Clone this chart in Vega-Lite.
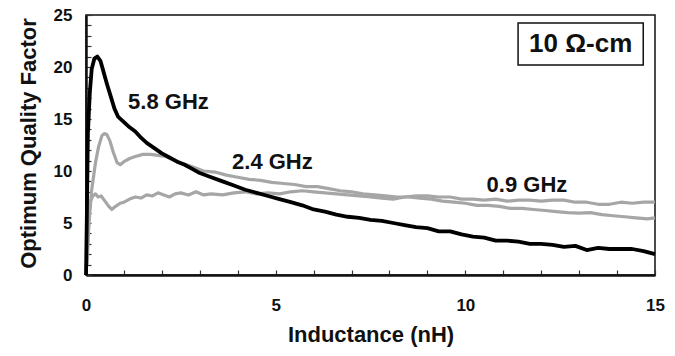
{
  "$schema": "https://vega.github.io/schema/vega-lite/v6.json",
  "width": 569,
  "height": 260,
  "autosize": {"type": "none"},
  "padding": {"left": 86, "top": 15, "right": 20, "bottom": 81},
  "background": "white",
  "config": {
    "view": {"stroke": "#111", "strokeWidth": 1.5},
    "font": "Liberation Sans",
    "axis": {"grid": false, "labelFont": "Liberation Sans", "titleFont": "Liberation Sans", "labelFontWeight": "bold", "titleFontWeight": "bold", "labelColor": "#111", "titleColor": "#111", "domainColor": "#111", "domainWidth": 2.5, "tickColor": "#333", "tickWidth": 1.2, "labelFlush": false}
  },
  "resolve": {"axis": {"x": "independent", "y": "independent"}},
  "datasets": {
    "curves": [
      {"f": "5.8 GHz", "L": 0.0, "Q": 0.0},
      {"f": "5.8 GHz", "L": 0.02, "Q": 5.0},
      {"f": "5.8 GHz", "L": 0.05, "Q": 13.6},
      {"f": "5.8 GHz", "L": 0.1, "Q": 17.5},
      {"f": "5.8 GHz", "L": 0.15, "Q": 19.8},
      {"f": "5.8 GHz", "L": 0.22, "Q": 20.8},
      {"f": "5.8 GHz", "L": 0.3, "Q": 21.0},
      {"f": "5.8 GHz", "L": 0.38, "Q": 20.6},
      {"f": "5.8 GHz", "L": 0.45, "Q": 19.7},
      {"f": "5.8 GHz", "L": 0.55, "Q": 18.4},
      {"f": "5.8 GHz", "L": 0.65, "Q": 17.2},
      {"f": "5.8 GHz", "L": 0.75, "Q": 16.0},
      {"f": "5.8 GHz", "L": 0.85, "Q": 15.2},
      {"f": "5.8 GHz", "L": 1.0, "Q": 14.7},
      {"f": "5.8 GHz", "L": 1.15, "Q": 14.2},
      {"f": "5.8 GHz", "L": 1.3, "Q": 13.8},
      {"f": "5.8 GHz", "L": 1.45, "Q": 13.2},
      {"f": "5.8 GHz", "L": 1.6, "Q": 12.7},
      {"f": "5.8 GHz", "L": 1.8, "Q": 12.2},
      {"f": "5.8 GHz", "L": 2.0, "Q": 11.7},
      {"f": "5.8 GHz", "L": 2.2, "Q": 11.3},
      {"f": "5.8 GHz", "L": 2.4, "Q": 10.9},
      {"f": "5.8 GHz", "L": 2.6, "Q": 10.6},
      {"f": "5.8 GHz", "L": 2.8, "Q": 10.2},
      {"f": "5.8 GHz", "L": 3.0, "Q": 9.8},
      {"f": "5.8 GHz", "L": 3.3, "Q": 9.4},
      {"f": "5.8 GHz", "L": 3.6, "Q": 9.0},
      {"f": "5.8 GHz", "L": 3.9, "Q": 8.6},
      {"f": "5.8 GHz", "L": 4.2, "Q": 8.2},
      {"f": "5.8 GHz", "L": 4.5, "Q": 7.9},
      {"f": "5.8 GHz", "L": 4.8, "Q": 7.6},
      {"f": "5.8 GHz", "L": 5.1, "Q": 7.3},
      {"f": "5.8 GHz", "L": 5.4, "Q": 7.0},
      {"f": "5.8 GHz", "L": 5.7, "Q": 6.7},
      {"f": "5.8 GHz", "L": 6.0, "Q": 6.3},
      {"f": "5.8 GHz", "L": 6.3, "Q": 6.1},
      {"f": "5.8 GHz", "L": 6.6, "Q": 5.8},
      {"f": "5.8 GHz", "L": 6.9, "Q": 5.6},
      {"f": "5.8 GHz", "L": 7.2, "Q": 5.5},
      {"f": "5.8 GHz", "L": 7.5, "Q": 5.3},
      {"f": "5.8 GHz", "L": 7.8, "Q": 5.2},
      {"f": "5.8 GHz", "L": 8.1, "Q": 5.0},
      {"f": "5.8 GHz", "L": 8.4, "Q": 4.8},
      {"f": "5.8 GHz", "L": 8.7, "Q": 4.6},
      {"f": "5.8 GHz", "L": 9.0, "Q": 4.5},
      {"f": "5.8 GHz", "L": 9.3, "Q": 4.2},
      {"f": "5.8 GHz", "L": 9.6, "Q": 4.2},
      {"f": "5.8 GHz", "L": 9.9, "Q": 3.9},
      {"f": "5.8 GHz", "L": 10.2, "Q": 3.7},
      {"f": "5.8 GHz", "L": 10.5, "Q": 3.6},
      {"f": "5.8 GHz", "L": 10.8, "Q": 3.3},
      {"f": "5.8 GHz", "L": 11.1, "Q": 3.3},
      {"f": "5.8 GHz", "L": 11.4, "Q": 3.2},
      {"f": "5.8 GHz", "L": 11.7, "Q": 3.0},
      {"f": "5.8 GHz", "L": 12.0, "Q": 3.0},
      {"f": "5.8 GHz", "L": 12.3, "Q": 2.9},
      {"f": "5.8 GHz", "L": 12.6, "Q": 2.7},
      {"f": "5.8 GHz", "L": 12.9, "Q": 2.8},
      {"f": "5.8 GHz", "L": 13.2, "Q": 2.4},
      {"f": "5.8 GHz", "L": 13.5, "Q": 2.6},
      {"f": "5.8 GHz", "L": 13.8, "Q": 2.5},
      {"f": "5.8 GHz", "L": 14.1, "Q": 2.5},
      {"f": "5.8 GHz", "L": 14.4, "Q": 2.5},
      {"f": "5.8 GHz", "L": 14.7, "Q": 2.3},
      {"f": "5.8 GHz", "L": 15.0, "Q": 2.0},
      {"f": "2.4 GHz", "L": 0.03, "Q": 2.0},
      {"f": "2.4 GHz", "L": 0.08, "Q": 5.0},
      {"f": "2.4 GHz", "L": 0.15, "Q": 8.2},
      {"f": "2.4 GHz", "L": 0.25, "Q": 10.8},
      {"f": "2.4 GHz", "L": 0.33, "Q": 12.3},
      {"f": "2.4 GHz", "L": 0.42, "Q": 13.4},
      {"f": "2.4 GHz", "L": 0.48, "Q": 13.6},
      {"f": "2.4 GHz", "L": 0.55, "Q": 13.5},
      {"f": "2.4 GHz", "L": 0.63, "Q": 12.9},
      {"f": "2.4 GHz", "L": 0.72, "Q": 11.8},
      {"f": "2.4 GHz", "L": 0.82, "Q": 10.8},
      {"f": "2.4 GHz", "L": 0.9, "Q": 10.6},
      {"f": "2.4 GHz", "L": 1.0, "Q": 10.9},
      {"f": "2.4 GHz", "L": 1.15, "Q": 11.2},
      {"f": "2.4 GHz", "L": 1.3, "Q": 11.4},
      {"f": "2.4 GHz", "L": 1.5, "Q": 11.6},
      {"f": "2.4 GHz", "L": 1.7, "Q": 11.6},
      {"f": "2.4 GHz", "L": 1.9, "Q": 11.5},
      {"f": "2.4 GHz", "L": 2.1, "Q": 11.4},
      {"f": "2.4 GHz", "L": 2.3, "Q": 11.1},
      {"f": "2.4 GHz", "L": 2.5, "Q": 10.8},
      {"f": "2.4 GHz", "L": 2.8, "Q": 10.4},
      {"f": "2.4 GHz", "L": 3.1, "Q": 10.0},
      {"f": "2.4 GHz", "L": 3.4, "Q": 9.9},
      {"f": "2.4 GHz", "L": 3.7, "Q": 9.6},
      {"f": "2.4 GHz", "L": 4.0, "Q": 9.4},
      {"f": "2.4 GHz", "L": 4.3, "Q": 9.2},
      {"f": "2.4 GHz", "L": 4.6, "Q": 9.1},
      {"f": "2.4 GHz", "L": 4.9, "Q": 8.9},
      {"f": "2.4 GHz", "L": 5.2, "Q": 8.8},
      {"f": "2.4 GHz", "L": 5.5, "Q": 8.7},
      {"f": "2.4 GHz", "L": 5.8, "Q": 8.5},
      {"f": "2.4 GHz", "L": 6.1, "Q": 8.5},
      {"f": "2.4 GHz", "L": 6.4, "Q": 8.3},
      {"f": "2.4 GHz", "L": 6.7, "Q": 8.1},
      {"f": "2.4 GHz", "L": 7.0, "Q": 8.0},
      {"f": "2.4 GHz", "L": 7.3, "Q": 7.8},
      {"f": "2.4 GHz", "L": 7.6, "Q": 7.7},
      {"f": "2.4 GHz", "L": 7.9, "Q": 7.6},
      {"f": "2.4 GHz", "L": 8.2, "Q": 7.5},
      {"f": "2.4 GHz", "L": 8.5, "Q": 7.5},
      {"f": "2.4 GHz", "L": 8.8, "Q": 7.4},
      {"f": "2.4 GHz", "L": 9.1, "Q": 7.3},
      {"f": "2.4 GHz", "L": 9.4, "Q": 7.1},
      {"f": "2.4 GHz", "L": 9.7, "Q": 7.0},
      {"f": "2.4 GHz", "L": 10.0, "Q": 6.9},
      {"f": "2.4 GHz", "L": 10.3, "Q": 6.7},
      {"f": "2.4 GHz", "L": 10.6, "Q": 6.7},
      {"f": "2.4 GHz", "L": 10.9, "Q": 6.6},
      {"f": "2.4 GHz", "L": 11.2, "Q": 6.4},
      {"f": "2.4 GHz", "L": 11.5, "Q": 6.4},
      {"f": "2.4 GHz", "L": 11.8, "Q": 6.3},
      {"f": "2.4 GHz", "L": 12.1, "Q": 6.2},
      {"f": "2.4 GHz", "L": 12.4, "Q": 6.1},
      {"f": "2.4 GHz", "L": 12.7, "Q": 6.0},
      {"f": "2.4 GHz", "L": 13.0, "Q": 5.95},
      {"f": "2.4 GHz", "L": 13.3, "Q": 6.0},
      {"f": "2.4 GHz", "L": 13.6, "Q": 5.8},
      {"f": "2.4 GHz", "L": 13.9, "Q": 5.7},
      {"f": "2.4 GHz", "L": 14.2, "Q": 5.6},
      {"f": "2.4 GHz", "L": 14.5, "Q": 5.5},
      {"f": "2.4 GHz", "L": 14.8, "Q": 5.4},
      {"f": "2.4 GHz", "L": 15.0, "Q": 5.5},
      {"f": "0.9 GHz", "L": 0.03, "Q": 1.0},
      {"f": "0.9 GHz", "L": 0.06, "Q": 4.0},
      {"f": "0.9 GHz", "L": 0.1, "Q": 7.0},
      {"f": "0.9 GHz", "L": 0.18, "Q": 7.6},
      {"f": "0.9 GHz", "L": 0.25, "Q": 7.8},
      {"f": "0.9 GHz", "L": 0.32, "Q": 7.5},
      {"f": "0.9 GHz", "L": 0.4, "Q": 7.6},
      {"f": "0.9 GHz", "L": 0.5, "Q": 7.1},
      {"f": "0.9 GHz", "L": 0.6, "Q": 6.6},
      {"f": "0.9 GHz", "L": 0.68, "Q": 6.3},
      {"f": "0.9 GHz", "L": 0.78, "Q": 6.6},
      {"f": "0.9 GHz", "L": 0.9, "Q": 6.9},
      {"f": "0.9 GHz", "L": 1.0, "Q": 7.0},
      {"f": "0.9 GHz", "L": 1.15, "Q": 7.3},
      {"f": "0.9 GHz", "L": 1.3, "Q": 7.5},
      {"f": "0.9 GHz", "L": 1.45, "Q": 7.4},
      {"f": "0.9 GHz", "L": 1.6, "Q": 7.7},
      {"f": "0.9 GHz", "L": 1.75, "Q": 7.6},
      {"f": "0.9 GHz", "L": 1.9, "Q": 7.9},
      {"f": "0.9 GHz", "L": 2.05, "Q": 7.7},
      {"f": "0.9 GHz", "L": 2.2, "Q": 7.5},
      {"f": "0.9 GHz", "L": 2.35, "Q": 7.8},
      {"f": "0.9 GHz", "L": 2.5, "Q": 7.9},
      {"f": "0.9 GHz", "L": 2.7, "Q": 7.7},
      {"f": "0.9 GHz", "L": 2.9, "Q": 8.0},
      {"f": "0.9 GHz", "L": 3.1, "Q": 7.7},
      {"f": "0.9 GHz", "L": 3.3, "Q": 7.8},
      {"f": "0.9 GHz", "L": 3.6, "Q": 7.7},
      {"f": "0.9 GHz", "L": 3.9, "Q": 7.9},
      {"f": "0.9 GHz", "L": 4.2, "Q": 8.0},
      {"f": "0.9 GHz", "L": 4.5, "Q": 7.8},
      {"f": "0.9 GHz", "L": 4.8, "Q": 7.9},
      {"f": "0.9 GHz", "L": 5.1, "Q": 7.8},
      {"f": "0.9 GHz", "L": 5.4, "Q": 8.0},
      {"f": "0.9 GHz", "L": 5.7, "Q": 8.1},
      {"f": "0.9 GHz", "L": 6.0, "Q": 8.0},
      {"f": "0.9 GHz", "L": 6.3, "Q": 7.9},
      {"f": "0.9 GHz", "L": 6.6, "Q": 7.8},
      {"f": "0.9 GHz", "L": 6.9, "Q": 7.7},
      {"f": "0.9 GHz", "L": 7.2, "Q": 7.6},
      {"f": "0.9 GHz", "L": 7.5, "Q": 7.5},
      {"f": "0.9 GHz", "L": 7.8, "Q": 7.4},
      {"f": "0.9 GHz", "L": 8.1, "Q": 7.3},
      {"f": "0.9 GHz", "L": 8.4, "Q": 7.5},
      {"f": "0.9 GHz", "L": 8.7, "Q": 7.6},
      {"f": "0.9 GHz", "L": 9.0, "Q": 7.6},
      {"f": "0.9 GHz", "L": 9.3, "Q": 7.5},
      {"f": "0.9 GHz", "L": 9.6, "Q": 7.5},
      {"f": "0.9 GHz", "L": 9.9, "Q": 7.3},
      {"f": "0.9 GHz", "L": 10.2, "Q": 7.3},
      {"f": "0.9 GHz", "L": 10.5, "Q": 7.2},
      {"f": "0.9 GHz", "L": 10.8, "Q": 7.3},
      {"f": "0.9 GHz", "L": 11.1, "Q": 7.1},
      {"f": "0.9 GHz", "L": 11.4, "Q": 7.2},
      {"f": "0.9 GHz", "L": 11.7, "Q": 7.2},
      {"f": "0.9 GHz", "L": 12.0, "Q": 7.1},
      {"f": "0.9 GHz", "L": 12.3, "Q": 7.2},
      {"f": "0.9 GHz", "L": 12.6, "Q": 7.2},
      {"f": "0.9 GHz", "L": 12.9, "Q": 7.0},
      {"f": "0.9 GHz", "L": 13.2, "Q": 7.0},
      {"f": "0.9 GHz", "L": 13.5, "Q": 6.8},
      {"f": "0.9 GHz", "L": 13.8, "Q": 6.8},
      {"f": "0.9 GHz", "L": 14.1, "Q": 7.0},
      {"f": "0.9 GHz", "L": 14.4, "Q": 6.9},
      {"f": "0.9 GHz", "L": 14.7, "Q": 7.0},
      {"f": "0.9 GHz", "L": 15.0, "Q": 7.0}
    ],
    "labels": [
      {"text": "5.8 GHz", "L": 1.11, "Q": 16.6},
      {"text": "2.4 GHz", "L": 3.85, "Q": 10.9},
      {"text": "0.9 GHz", "L": 10.56, "Q": 8.65}
    ],
    "box": [
      {"L": 11.39, "L2": 14.69, "Q": 20.19, "Q2": 24.23, "text": "10 Ω-cm", "Lc": 13.04, "Qc": 22.2}
    ]
  },
  "layer": [
    {
      "data": {"name": "curves"},
      "transform": [{"filter": "datum.f != '5.8 GHz'"}],
      "mark": {"type": "line", "stroke": "#a6a6a6", "strokeWidth": 3.2, "strokeJoin": "round"},
      "encoding": {
        "x": {"field": "L", "type": "quantitative", "scale": {"domain": [0, 15], "nice": false},
          "axis": {"orient": "bottom", "title": null, "values": [0,1,2,3,4,5,6,7,8,9,10,11,12,13,14,15], "labels": false, "domain": false, "ticks": true, "tickSize": 5, "offset": -5}},
        "y": {"field": "Q", "type": "quantitative", "scale": {"domain": [0, 25], "nice": false},
          "axis": {"orient": "left", "title": null, "values": [0,1,2,3,4,5,6,7,8,9,10,11,12,13,14,15,16,17,18,19,20,21,22,23,24,25], "labels": false, "domain": false, "ticks": true, "tickSize": 5, "offset": -5}},
        "detail": {"field": "f", "type": "nominal"}
      }
    },
    {
      "data": {"name": "curves"},
      "transform": [{"filter": "datum.f == '5.8 GHz'"}],
      "mark": {"type": "line", "stroke": "#000", "strokeWidth": 3.8, "strokeJoin": "round"},
      "encoding": {
        "x": {"field": "L", "type": "quantitative",
          "axis": {"orient": "bottom", "title": "Inductance (nH)", "values": [0, 5, 10, 15], "ticks": false, "tickSize": 0, "labelOverlap": false, "labelFlush": false, "labelPadding": 22, "labelFontSize": 17, "labelBaseline": "top", "titleFontSize": 22, "titleX": 284.5, "titleY": 66, "titleBaseline": "alphabetic", "titleAlign": "center"}},
        "y": {"field": "Q", "type": "quantitative",
          "axis": {"orient": "left", "title": "Optimum Quality Factor", "values": [0, 5, 10, 15, 20, 25], "ticks": false, "tickSize": 0, "labelOverlap": false, "labelFlush": false, "labelPadding": 14, "labelFontSize": 17, "titleFontSize": 22, "titleX": -58, "titleY": 128, "titleAngle": -90, "titleAlign": "center", "titleBaseline": "middle"}}
      }
    },
    {
      "data": {"name": "labels"},
      "mark": {"type": "text", "align": "left", "baseline": "middle", "fontSize": 22, "fontWeight": "bold", "font": "Liberation Sans", "color": "#111"},
      "encoding": {
        "x": {"field": "L", "type": "quantitative", "axis": null},
        "y": {"field": "Q", "type": "quantitative", "axis": null},
        "text": {"field": "text"}
      }
    },
    {
      "data": {"name": "box"},
      "mark": {"type": "rect", "fill": "white", "stroke": "#111", "strokeWidth": 1.5},
      "encoding": {
        "x": {"field": "L", "type": "quantitative", "axis": null},
        "x2": {"field": "L2"},
        "y": {"field": "Q", "type": "quantitative", "axis": null},
        "y2": {"field": "Q2"}
      }
    },
    {
      "data": {"name": "box"},
      "mark": {"type": "text", "align": "center", "baseline": "middle", "fontSize": 26, "fontWeight": "bold", "font": "Liberation Sans", "color": "#111"},
      "encoding": {
        "x": {"field": "Lc", "type": "quantitative", "axis": null},
        "y": {"field": "Qc", "type": "quantitative", "axis": null},
        "text": {"field": "text"}
      }
    }
  ]
}
